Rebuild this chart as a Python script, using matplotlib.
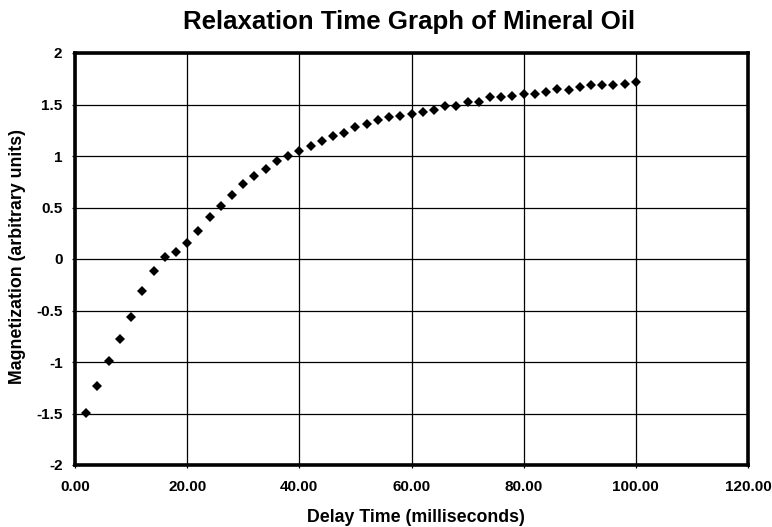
import matplotlib
matplotlib.use("Agg")
import matplotlib.pyplot as plt
from matplotlib.ticker import FuncFormatter

plt.rcParams['font.family'] = ['Liberation Sans', 'DejaVu Sans']
plt.rcParams['axes.unicode_minus'] = False

delay_ms = [2, 4, 6, 8, 10, 12, 14, 16, 18, 20,
            22, 24, 26, 28, 30, 32, 34, 36, 38, 40,
            42, 44, 46, 48, 50, 52, 54, 56, 58, 60,
            62, 64, 66, 68, 70, 72, 74, 76, 78, 80,
            82, 84, 86, 88, 90, 92, 94, 96, 98, 100]
magnetization = [-1.495, -1.236, -0.994, -0.777, -0.560, -0.307, -0.113, 0.016, 0.065, 0.152,
                 0.269, 0.411, 0.518, 0.618, 0.728, 0.803, 0.871, 0.948, 0.997, 1.050,
                 1.094, 1.148, 1.190, 1.223, 1.277, 1.310, 1.345, 1.377, 1.387, 1.410,
                 1.432, 1.442, 1.484, 1.484, 1.529, 1.529, 1.571, 1.571, 1.582, 1.606,
                 1.606, 1.626, 1.648, 1.645, 1.668, 1.694, 1.694, 1.694, 1.703, 1.723]

x_ticks = [0, 20, 40, 60, 80, 100, 120]
y_ticks = [-2, -1.5, -1, -0.5, 0, 0.5, 1, 1.5, 2]

W, H = 772, 527
fig = plt.figure(figsize=(W/100, H/100), dpi=100)
ax = fig.add_axes([75/W, 1-465/H, (748-75)/W, (465-53)/H])

ax.plot(delay_ms, magnetization, linestyle='none', marker='D', markersize=4.8,
        color='black', markeredgewidth=0, zorder=3)

ax.set_xlim(0, 120)
ax.set_ylim(-2, 2)
ax.set_xticks(x_ticks)
ax.set_yticks(y_ticks)
ax.xaxis.set_major_formatter(FuncFormatter(lambda v, p: f"{v:.2f}"))
ax.yaxis.set_major_formatter(FuncFormatter(lambda v, p: f"{v:g}"))
ax.grid(True, color='black', linewidth=0.9)
ax.set_axisbelow(True)
for s in ax.spines.values():
    s.set_linewidth(2.6)
    s.set_color('black')
ax.tick_params(direction='out', length=2.5, width=0.9, labelsize=11)
ax.tick_params(axis='y', pad=6.5)
ax.tick_params(axis='x', pad=8.5)
for lbl in ax.get_xticklabels() + ax.get_yticklabels():
    lbl.set_fontweight('bold')

fig.text(409.5/W, 1-29.5/H, "Relaxation Time Graph of Mineral Oil",
         ha='center', va='baseline', fontsize=18.6, fontweight='bold')
fig.text(415.5/W, 1-518/H, "Delay Time (milliseconds)",
         ha='center', va='center', fontsize=12.8, fontweight='bold')
fig.text(18/W, 1-257/H, "Magnetization (arbitrary units)", rotation=90,
         ha='center', va='center', fontsize=12.8, fontweight='bold')

fig.savefig("out.png", dpi=100, facecolor='white')
